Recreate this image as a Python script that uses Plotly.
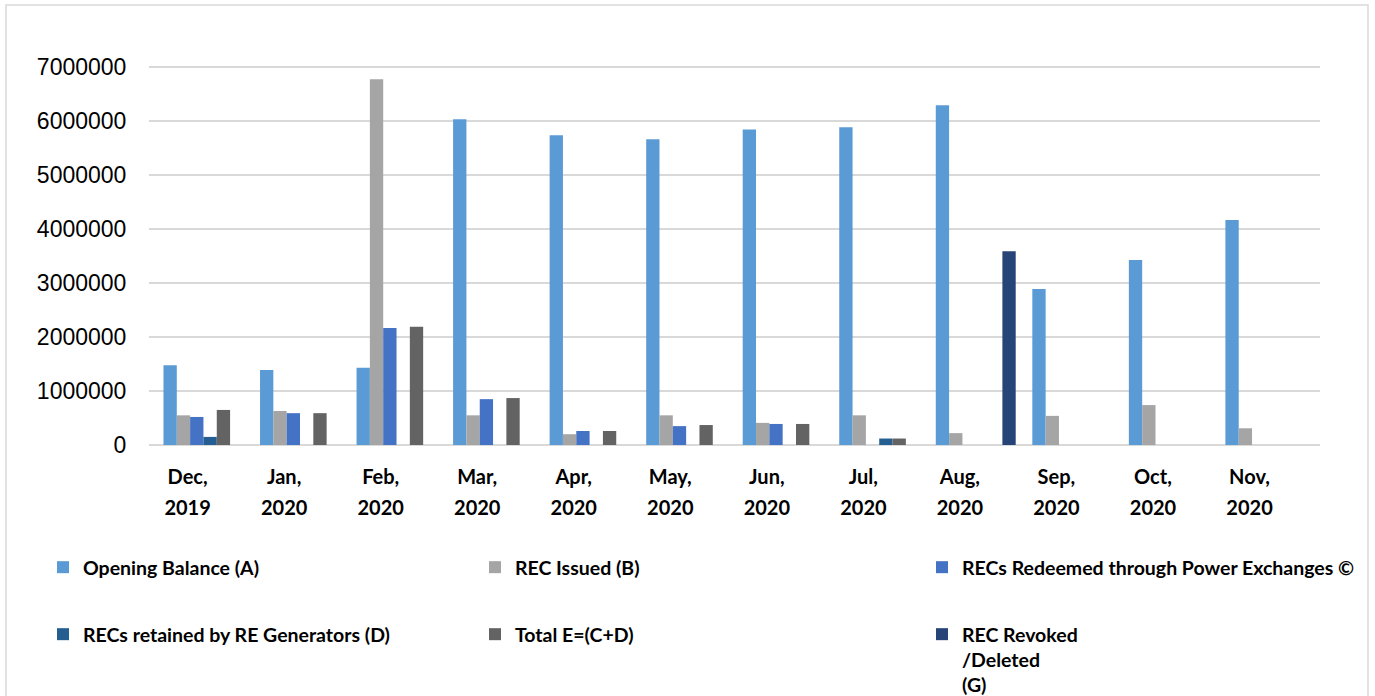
import plotly.graph_objects as go

months = ["Dec,", "Jan,", "Feb,", "Mar,", "Apr,", "May,", "Jun,", "Jul,", "Aug,", "Sep,", "Oct,", "Nov,"]
years = ["2019", "2020", "2020", "2020", "2020", "2020", "2020", "2020", "2020", "2020", "2020", "2020"]

opening_balance = [1480000, 1390000, 1430000, 6040000, 5740000, 5670000, 5850000, 5890000, 6300000, 2890000, 3430000, 4170000]
rec_issued = [550000, 630000, 6780000, 550000, 200000, 550000, 410000, 550000, 220000, 540000, 740000, 310000]
redeemed_px = [520000, 590000, 2170000, 850000, 260000, 350000, 390000, 0, 0, 0, 0, 0]
retained_gen = [150000, 0, 0, 0, 0, 0, 0, 120000, 0, 0, 0, 0]
total_e = [650000, 590000, 2190000, 870000, 260000, 370000, 390000, 120000, 0, 0, 0, 0]
revoked = [0, 0, 0, 0, 0, 0, 0, 0, 3590000, 0, 0, 0]

y_ticks = [0, 1000000, 2000000, 3000000, 4000000, 5000000, 6000000, 7000000]

series = [
    ("Opening Balance (A)", opening_balance, "#5B9BD5"),
    ("REC Issued (B)", rec_issued, "#A5A5A5"),
    ("RECs Redeemed through Power Exchanges ©", redeemed_px, "#4472C4"),
    ("RECs retained by RE Generators (D)", retained_gen, "#255E91"),
    ("Total E=(C+D)", total_e, "#636363"),
    ("REC Revoked<br>/Deleted<br>(G)", revoked, "#264478"),
]

# plot area in px: x 149..1320, y 62..445
L, R, T, B = 149, 55, 62, 251
W, H = 1375, 696
pw, ph = W - L - R, H - T - B

def px_x(x):
    return (x - L) / pw

def px_y(y):
    return (H - B - y) / ph

# legend box top-left corners (px)
legend_pos = [(43, 548), (475, 548), (922, 548), (43, 615), (475, 615), (922, 615)]

FONT_BOLD = "Lato, Liberation Sans"

fig = go.Figure()
bw = 0.138
start = -0.25
for i, (name, vals, color) in enumerate(series):
    lg = "legend" if i == 0 else f"legend{i+1}"
    fig.add_trace(go.Bar(
        x=months, y=vals, name=name, marker=dict(color=color, line=dict(width=0)),
        width=bw, offset=start + bw * i, legend=lg,
    ))

# carrier for the second (year) line of the category axis; draws nothing
fig.add_trace(go.Scatter(x=months, y=[None] * len(months), xaxis="x2", mode="markers",
                         showlegend=False, hoverinfo="skip"))

legend_common = dict(
    font=dict(family=FONT_BOLD, size=19.5, color="#000000", weight="bold"),
    bgcolor="rgba(0,0,0,0)", xanchor="left", yanchor="top", valign="top",
    itemwidth=30, borderwidth=0,
)
layout_legends = {}
for i, (lx, ly) in enumerate(legend_pos):
    key = "legend" if i == 0 else f"legend{i+1}"
    layout_legends[key] = dict(x=px_x(lx), y=px_y(ly), **legend_common)

xrange_ = [-0.4, 11.73]
fig.update_layout(
    width=W, height=H,
    margin=dict(l=L, r=R, t=T, b=B, autoexpand=False),
    barmode="overlay",
    plot_bgcolor="white", paper_bgcolor="white",
    showlegend=True,
    xaxis=dict(
        type="category", range=xrange_,
        showgrid=False, zeroline=False, showline=False,
        ticks="", ticklabelstandoff=18,
        tickfont=dict(family=FONT_BOLD, size=20, color="#000000", weight="bold"),
    ),
    xaxis2=dict(
        type="category", overlaying="x", side="bottom", anchor="y", range=xrange_,
        tickmode="array", tickvals=months, ticktext=years,
        showgrid=False, zeroline=False, showline=False,
        ticks="", ticklabelstandoff=49,
        tickfont=dict(family=FONT_BOLD, size=20, color="#000000", weight="bold"),
    ),
    yaxis=dict(
        range=[0, 7100000], tickvals=y_ticks, ticktext=[str(v) for v in y_ticks],
        showgrid=True, gridcolor="#d9d9d9", gridwidth=2, zeroline=True, zerolinecolor="#d9d9d9", zerolinewidth=2,
        showline=False, ticks="outside", ticklen=17, tickcolor="rgba(0,0,0,0)",
        tickfont=dict(family="Liberation Sans", size=23, color="#000000"),
    ),
    shapes=[dict(type="rect", xref="paper", yref="paper",
                 x0=px_x(6), x1=px_x(1368), y0=px_y(720), y1=px_y(5),
                 line=dict(color="#d9d9d9", width=1.5), fillcolor="rgba(0,0,0,0)", layer="below")],
    **layout_legends,
)

fig.write_html("out.html")
